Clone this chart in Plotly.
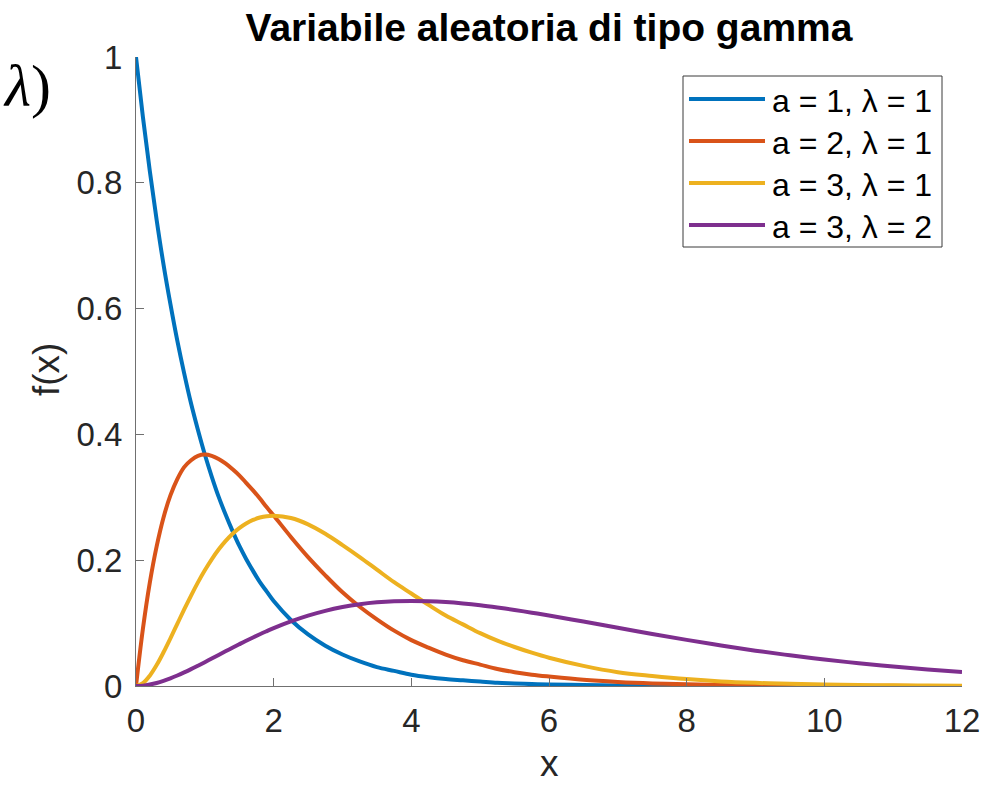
import plotly.graph_objects as go

# Sample points along x (finer steps where the curves change quickly)
x_vals = [0, 0.1, 0.2, 0.3, 0.4, 0.5, 0.6, 0.7, 0.8, 0.9, 1.0, 1.1, 1.2, 1.3, 1.4, 1.5, 1.6,
          1.7, 1.8, 1.9, 2.0, 2.25, 2.5, 2.75, 3, 3.25, 3.5, 3.75, 4, 4.25, 4.5, 4.75, 5,
          5.25, 5.5, 5.75, 6, 6.5, 7, 7.5, 8, 8.5, 9, 9.5, 10, 10.5, 11, 11.5, 12]

# f(x) for a = 1, lambda = 1
f_a1_l1 = [1.000, 0.905, 0.819, 0.741, 0.670, 0.607, 0.549, 0.497, 0.449, 0.407, 0.368, 0.333,
           0.301, 0.273, 0.247, 0.223, 0.202, 0.183, 0.165, 0.150, 0.135, 0.105, 0.082, 0.064,
           0.050, 0.039, 0.030, 0.024, 0.018, 0.014, 0.011, 0.009, 0.007, 0.005, 0.004, 0.003,
           0.0025, 0.0015, 0.0009, 0.0006, 0.0003, 0.0002, 0.0001, 0.0001, 0.0, 0.0, 0.0, 0.0, 0.0]

# f(x) for a = 2, lambda = 1
f_a2_l1 = [0.000, 0.0905, 0.164, 0.222, 0.268, 0.303, 0.329, 0.348, 0.359, 0.366, 0.368, 0.366,
           0.361, 0.354, 0.345, 0.335, 0.323, 0.311, 0.298, 0.284, 0.271, 0.237, 0.205, 0.176,
           0.149, 0.126, 0.106, 0.088, 0.073, 0.061, 0.050, 0.041, 0.034, 0.027, 0.022, 0.018,
           0.015, 0.0098, 0.0064, 0.0041, 0.0027, 0.0017, 0.0011, 0.0007, 0.0005, 0.0003, 0.0002,
           0.0001, 0.0001]

# f(x) for a = 3, lambda = 1
f_a3_l1 = [0.000, 0.0045, 0.0164, 0.0333, 0.0536, 0.0758, 0.0988, 0.1217, 0.1438, 0.1647,
           0.1839, 0.2014, 0.2169, 0.2303, 0.2417, 0.2510, 0.2584, 0.2640, 0.2678, 0.2700,
           0.2707, 0.267, 0.257, 0.242, 0.224, 0.205, 0.185, 0.165, 0.147, 0.129, 0.112, 0.098,
           0.084, 0.072, 0.062, 0.053, 0.045, 0.032, 0.022, 0.016, 0.011, 0.0073, 0.0050, 0.0034,
           0.0023, 0.0015, 0.0010, 0.0007, 0.0004]

# f(x) for a = 3, lambda = 2
f_a3_l2 = [0.000, 0.0006, 0.0023, 0.0048, 0.0082, 0.0122, 0.0167, 0.0216, 0.0268, 0.0323,
           0.0379, 0.0436, 0.0494, 0.0551, 0.0608, 0.0664, 0.0719, 0.0772, 0.0823, 0.0872,
           0.0920, 0.1027, 0.1119, 0.1195, 0.1255, 0.1300, 0.1330, 0.1348, 0.1353, 0.1348,
           0.1334, 0.1312, 0.1283, 0.1248, 0.1209, 0.1166, 0.1120, 0.1024, 0.0925, 0.0827,
           0.0733, 0.0644, 0.0562, 0.0488, 0.0421, 0.0362, 0.0309, 0.0263, 0.0223]

series_names = ["a = 1, λ = 1", "a = 2, λ = 1", "a = 3, λ = 1", "a = 3, λ = 2"]
series_vals = [f_a1_l1, f_a2_l1, f_a3_l1, f_a3_l2]
colors = ["#0072BD", "#D95319", "#EDB120", "#7E2F8E"]

x_ticks = [0, 2, 4, 6, 8, 10, 12]
y_ticks = [0, 0.2, 0.4, 0.6, 0.8, 1]
y_tick_text = ["0", "0.2", "0.4", "0.6", "0.8", "1"]

W, H = 989, 787
L, R, T, B = 136, 27, 57, 101
FONT = "Liberation Sans, Arial, sans-serif"
AX = "#262626"
AXLINE = "#707070"

fig = go.Figure()
for name, vals, col in zip(series_names, series_vals, colors):
    fig.add_trace(go.Scatter(x=x_vals, y=vals, name=name, mode="lines",
                             line=dict(color=col, width=4, shape="spline", smoothing=1),
                             showlegend=False))

fig.update_layout(
    width=W, height=H,
    margin=dict(l=L, r=R, t=T, b=B, autoexpand=False),
    paper_bgcolor="white", plot_bgcolor="white",
    font=dict(family=FONT, color=AX, size=33),
    title=dict(text="<b>Variabile aleatoria di tipo gamma</b>", x=(L + (W - L - R) / 2) / W,
               xanchor="center", y=1 - 27 / H, yanchor="middle",
               font=dict(family=FONT, size=39, color="#000000")),
)

fig.update_xaxes(range=[0, 12], tickvals=x_ticks, ticks="inside", ticklen=8, tickwidth=1,
                 tickcolor=AXLINE, showline=True, linecolor=AXLINE, linewidth=1,
                 showgrid=False, zeroline=False, mirror=False, ticklabelstandoff=5,
                 automargin=False, tickfont=dict(size=33, color=AX))
fig.update_yaxes(range=[0, 1], tickvals=y_ticks, ticktext=y_tick_text, ticks="inside",
                 ticklen=8, tickwidth=1, tickcolor=AXLINE, showline=True,
                 linecolor=AXLINE, linewidth=1, showgrid=False, zeroline=False,
                 mirror=False, ticklabelstandoff=6, automargin=False,
                 tickfont=dict(size=33, color=AX))

pw, ph = W - L - R, H - T - B
def px(xp):
    return (xp - L) / pw
def py(yp):
    return (H - B - yp) / ph

# Axis titles
fig.add_annotation(xref="paper", yref="paper", x=px(549), y=py(786), text="x",
                   showarrow=False, xanchor="center", yanchor="bottom",
                   font=dict(family=FONT, size=37, color=AX))
fig.add_annotation(xref="paper", yref="paper", x=px(46), y=py(370), text="f(x)",
                   showarrow=False, textangle=-90, xanchor="center", yanchor="middle",
                   font=dict(family=FONT, size=37, color=AX))

# Legend drawn as a boxed key in the upper right
fig.add_shape(type="rect", xref="paper", yref="paper",
              x0=px(683), x1=px(942), y0=py(247), y1=py(76),
              line=dict(color="#3a3a3a", width=1), fillcolor="white", layer="above")
row_y = [99, 141, 183, 225]
for name, col, yy in zip(series_names, colors, row_y):
    fig.add_shape(type="line", xref="paper", yref="paper",
                  x0=px(689), x1=px(765), y0=py(yy), y1=py(yy),
                  line=dict(color=col, width=4), layer="above")
    fig.add_annotation(xref="paper", yref="paper", x=px(770), y=py(yy + 2),
                       text=name, showarrow=False, xanchor="left", yanchor="middle",
                       font=dict(family=FONT, size=32, color="#000000"))

# Fragment of surrounding slide text at the upper left
fig.add_annotation(xref="paper", yref="paper", x=px(53), y=py(86),
                   text="<i>λ</i>)", showarrow=False, xanchor="right", yanchor="middle",
                   font=dict(family="Liberation Serif, DejaVu Serif, serif", size=60,
                             color="#000000"))

fig.write_html("out.html")
